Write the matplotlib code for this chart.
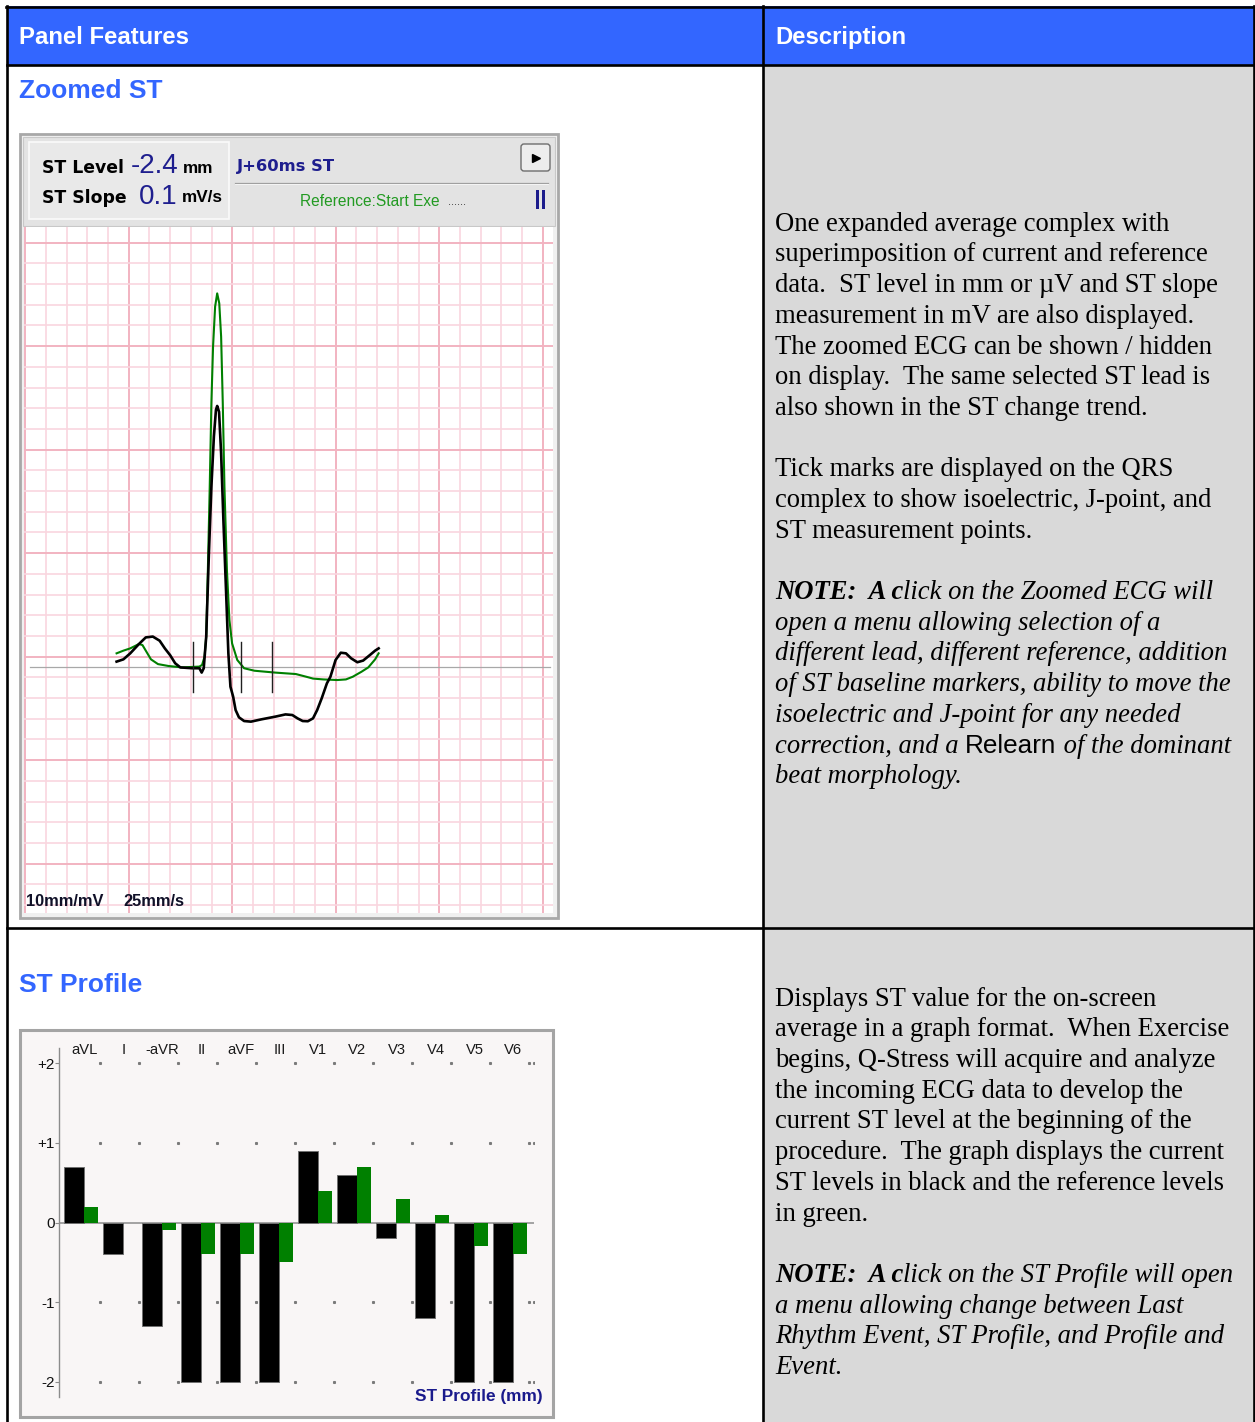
import matplotlib
matplotlib.use('Agg')
import matplotlib.pyplot as plt
from matplotlib.patches import Rectangle, FancyBboxPatch

W, H = 1255, 1422

# ---------------- data ----------------
# Zoomed ST: current (black) and reference (green) complexes, x in mm (25 mm/s), y in mm (10 mm/mV)
cur_x = [4.41, 4.74, 5.07, 5.49, 5.82, 6.16, 6.49, 6.74, 6.99, 7.24, 7.49, 8.07, 8.41, 8.52, 8.62,
         8.74, 8.87, 8.99, 9.11, 9.21, 9.27, 9.36, 9.46, 9.57, 9.69, 9.81, 9.91,
         10.04, 10.16, 10.32, 10.57, 10.90, 11.40, 12.07, 12.57, 12.90, 13.15, 13.40, 13.65, 13.90,
         14.10, 14.32, 14.57, 14.74, 14.99, 15.24, 15.49, 15.74, 16.04, 16.32, 16.65, 16.90, 17.07]
cur_y = [0.26, 0.37, 0.66, 1.11, 1.43, 1.47, 1.27, 0.90, 0.58, 0.18, -0.02, -0.06, -0.06, -0.27, -0.06,
         1.47, 5.49, 8.71, 11.13, 12.42, 12.61, 12.33, 10.32, 7.10, 3.88, 0.66, -0.95,
         -1.43, -2.08, -2.43, -2.61, -2.64, -2.53, -2.40, -2.29, -2.32, -2.48, -2.61, -2.62, -2.48,
         -2.08, -1.51, -0.79, -0.47, 0.34, 0.69, 0.66, 0.42, 0.23, 0.31, 0.58, 0.79, 0.90]
ref_x = [4.41, 4.74, 5.07, 5.49, 5.66, 5.82, 6.07, 6.41, 6.91, 7.57, 8.41, 8.54, 8.66, 8.74, 8.82,
         8.91, 8.99, 9.07, 9.17, 9.27, 9.37, 9.46, 9.54, 9.62, 9.74, 9.86, 9.99, 10.24, 10.57,
         11.07, 12.07, 13.07, 13.57, 13.90, 14.40, 15.07, 15.49, 15.82, 16.24, 16.57, 16.90, 17.07]
ref_y = [0.66, 0.79, 0.90, 1.11, 1.06, 0.79, 0.37, 0.14, 0.05, -0.02, 0.02, 0.10, 0.50, 1.47, 4.69,
         8.71, 12.74, 15.48, 17.41, 18.05, 17.57, 15.96, 12.74, 8.71, 4.69, 2.27, 1.14, 0.34, -0.06,
         -0.18, -0.27, -0.34, -0.47, -0.56, -0.60, -0.63, -0.60, -0.47, -0.23, -0.02, 0.37, 0.66]
marker_x = [8.11, 10.44, 11.94]          # isoelectric, J-point, ST measurement point
marker_half = 1.2

st_level = "-2.4"
st_slope = "0.1"

# ST Profile
leads = ['aVL', 'I', '-aVR', 'II', 'aVF', 'III', 'V1', 'V2', 'V3', 'V4', 'V5', 'V6']
st_current = [0.7, -0.4, -1.3, -2.0, -2.0, -2.0, 0.9, 0.6, -0.2, -1.2, -2.0, -2.0]
st_reference = [0.2, 0.0, -0.1, -0.4, -0.4, -0.5, 0.4, 0.7, 0.3, 0.1, -0.3, -0.4]
profile_ticks = [-2, -1, 0, 1, 2]
profile_tick_labels = ['-2', '-1', '0', '+1', '+2']

# ---------------- figure ----------------
fig = plt.figure(figsize=(W / 100, H / 100), dpi=100)
base = fig.add_axes([0, 0, 1, 1])
base.set_xlim(0, W)
base.set_ylim(H, 0)
base.axis('off')
R = fig.canvas.get_renderer()


def px_axes(x0, y0, x1, y1):
    return fig.add_axes([x0 / W, 1 - y1 / H, (x1 - x0) / W, (y1 - y0) / H])


def rect(x0, y0, x1, y1, **kw):
    p = Rectangle((x0, y0), x1 - x0, y1 - y0, **kw)
    base.add_patch(p)
    return p


def text_width(s, **kw):
    t = base.text(0, 0, s, **kw)
    w = t.get_window_extent(renderer=R).width
    t.remove()
    return w


def adv(s, **kw):
    return text_width('|' + s + '|', **kw) - text_width('||', **kw)


def draw_runs(x, y, parts):
    for s, kw in parts:
        base.text(x, y, s, va='baseline', ha='left', **kw)
        x += adv(s, **kw)


BLUE = '#3366FF'
SANS = 'Liberation Sans'
SERIF = 'Liberation Serif'

# ---------------- table ----------------
rect(7, 6, 1254, 65, facecolor=BLUE, edgecolor='none')
rect(763, 65, 1254, 1422, facecolor='#D9D9D9', edgecolor='none')
lw_t = 1.9
base.plot([6, 1255], [6.5, 6.5], color='black', lw=lw_t)
base.plot([7, 7], [6, 1422], color='black', lw=lw_t)
base.plot([1254, 1254], [6, 1422], color='black', lw=lw_t)
base.plot([7, 1254], [65, 65], color='black', lw=lw_t)
base.plot([7, 1254], [928, 928], color='black', lw=lw_t)
base.plot([763, 763], [6, 1422], color='black', lw=lw_t)

base.text(19, 37.5, 'Panel Features', color='white', fontsize=17.2, fontweight='bold',
          family=SANS, va='center', ha='left')
base.text(775, 37.5, 'Description', color='white', fontsize=17.2, fontweight='bold',
          family=SANS, va='center', ha='left')
base.text(19, 90.5, 'Zoomed ST', color=BLUE, fontsize=19, fontweight='bold',
          family=SANS, va='center', ha='left')
base.text(19, 984.5, 'ST Profile', color=BLUE, fontsize=19, fontweight='bold',
          family=SANS, va='center', ha='left')

# ---------------- description text ----------------
w10 = text_width('superimposition of current and reference', family=SERIF, fontsize=10)
bfs = 10 * 433 / w10
plain = dict(family=SERIF, fontsize=bfs, color='black')
ital = dict(family=SERIF, fontsize=bfs, style='italic', color='black')
bital = dict(family=SERIF, fontsize=bfs, style='italic', fontweight='bold', color='black')
sansr = dict(family=SANS, fontsize=bfs * 0.98, color='black')

LS = 30.7
X0 = 775
p1 = ['One expanded average complex with',
      'superimposition of current and reference',
      'data.  ST level in mm or \u00b5V and ST slope',
      'measurement in mV are also displayed.',
      'The zoomed ECG can be shown / hidden',
      'on display.  The same selected ST lead is',
      'also shown in the ST change trend.']
p2 = ['Tick marks are displayed on the QRS',
      'complex to show isoelectric, J-point, and',
      'ST measurement points.']
y0 = 230.7
for i, s in enumerate(p1):
    base.text(X0, y0 + LS * i, s, va='baseline', **plain)
for i, s in enumerate(p2):
    base.text(X0, y0 + LS * (8 + i), s, va='baseline', **plain)
n3 = [[('NOTE:  A c', bital), ('lick on the Zoomed ECG will', ital)],
      [('open a menu allowing selection of a', ital)],
      [('different lead, different reference, addition', ital)],
      [('of ST baseline markers, ability to move the', ital)],
      [('isoelectric and J-point for any needed', ital)],
      [('correction, and a ', ital), ('Relearn', sansr), (' of the dominant', ital)],
      [('beat morphology.', ital)]]
for i, parts in enumerate(n3):
    draw_runs(X0, y0 + LS * (12 + i), parts)

p4 = ['Displays ST value for the on-screen',
      'average in a graph format.  When Exercise',
      'begins, Q-Stress will acquire and analyze',
      'the incoming ECG data to develop the',
      'current ST level at the beginning of the',
      'procedure.  The graph displays the current',
      'ST levels in black and the reference levels',
      'in green.']
y1 = 1005.7
for i, s in enumerate(p4):
    base.text(X0, y1 + LS * i, s, va='baseline', **plain)
n4 = [[('NOTE:  A c', bital), ('lick on the ST Profile will open', ital)],
      [('a menu allowing change between Last', ital)],
      [('Rhythm Event, ST Profile, and Profile and', ital)],
      [('Event.', ital)]]
for i, parts in enumerate(n4):
    draw_runs(X0, y1 + LS * (9 + i), parts)

# ---------------- Zoomed ST panel frame ----------------
rect(20, 134, 558, 918, facecolor='#F0F0F0', edgecolor='#A8A8A8', lw=2.0)
rect(23, 137, 555, 226, facecolor='#E3E3E3', edgecolor='#C8C8C8', lw=0.8)
rect(29, 142, 229, 219, facecolor='#E9E9E9', edgecolor='#FAFAFA', lw=1.2)
base.plot([235, 548], [182.5, 182.5], color='#A0A0A0', lw=0.9)
base.plot([235, 548], [184, 184], color='#FAFAFA', lw=0.6)
btn = FancyBboxPatch((521, 144), 29, 27, boxstyle='round,pad=0,rounding_size=3',
                     facecolor='#EDEDED', edgecolor='#6E6E6E', lw=1.0)
base.add_patch(btn)
base.plot([536], [157.5], marker='>', color='black', markersize=6)
rect(535.5, 190, 538.5, 209, facecolor='#1C1C8C', edgecolor='none')
rect(541.5, 190, 544.5, 209, facecolor='#1C1C8C', edgecolor='none')

NAVY = '#1E1E8E'
lab = dict(family='DejaVu Sans', fontweight='bold', color='black', va='center', ha='left')
base.text(42, 168, 'ST Level', fontsize=12.4, **lab)
base.text(42, 198, 'ST Slope', fontsize=12.4, **lab)
base.text(131, 166, st_level, fontsize=20, family=SANS, color=NAVY, va='center', ha='left')
base.text(139, 197, st_slope, fontsize=20, family=SANS, color=NAVY, va='center', ha='left')
base.text(183, 168.5, 'mm', fontsize=12.3, family=SANS, fontweight='bold', color='black',
          va='center', ha='left')
base.text(182, 198, 'mV/s', fontsize=12.3, family=SANS, fontweight='bold', color='black',
          va='center', ha='left')
base.text(237, 167, 'J+60ms ST', fontsize=11.8, family='DejaVu Sans', fontweight='bold',
          color=NAVY, va='center', ha='left')
base.text(300, 202, 'Reference:Start Exe', fontsize=11.2, family=SANS, color='#229A22',
          va='center', ha='left')
base.text(448, 202, '......', fontsize=8, family=SANS, color='#303030', va='center', ha='left')

# ---------------- ECG axes ----------------
ax = px_axes(24, 227, 553, 913)
px_per_mm = 20.7
x_org, y_base = 25.3, 667
ax.set_xlim((24 - x_org) / px_per_mm, (553 - x_org) / px_per_mm)
ax.set_ylim((y_base - 913) / px_per_mm, (y_base - 227) / px_per_mm)
ax.set_facecolor('white')
for s in ax.spines.values():
    s.set_visible(False)
ax.set_xticks([])
ax.set_yticks([])
for k in range(0, 26):
    major = k % 5 == 0
    ax.axvline(k, color='#F2B3C1' if major else '#F9D6DF', lw=1.4 if major else 1.2, zorder=1)
for k in range(-12, 21):
    yv = 0.5 + k
    major = k % 5 == 0
    ax.axhline(yv, color='#F2B3C1' if major else '#F9D6DF', lw=1.4 if major else 1.2, zorder=1)
ax.plot([0.23, 25.35], [0, 0], color='#A8A8A8', lw=0.9, zorder=2)
ax.plot(ref_x, ref_y, color='#008000', lw=1.5, zorder=3, solid_joinstyle='round')
ax.plot(cur_x, cur_y, color='black', lw=1.9, zorder=4, solid_joinstyle='round')
for mx in marker_x:
    ax.plot([mx, mx], [-marker_half, marker_half], color='#202020', lw=1.0, zorder=5)
ax.text(26, 901, '10mm/mV', transform=base.transData, fontsize=11.8, family=SANS,
        fontweight='bold', color='#101028', va='center', ha='left', zorder=6)
ax.text(123, 901, '25mm/s', transform=base.transData, fontsize=11.8, family=SANS,
        fontweight='bold', color='#101028', va='center', ha='left', zorder=6)

# ---------------- ST Profile ----------------
rect(20, 1030, 553, 1417, facecolor='#F9F6F6', edgecolor='#A4A4A4', lw=2.2)
gx0, gw = 63.8, 39.0          # group origin / width in px
y0p, ypu = 1222.5, 79.6       # zero line / px per mm
axp = px_axes(59.3, 1047.7, 534.2, 1396.7)
axp.set_xlim(-(gx0 - 59.3) / gw, (534.2 - gx0) / gw)
axp.set_ylim((y0p - 1396.7) / ypu, (y0p - 1047.7) / ypu)
axp.set_facecolor('none')
for k in ['top', 'right', 'bottom']:
    axp.spines[k].set_visible(False)
axp.spines['left'].set_color('#8C8C8C')
axp.spines['left'].set_linewidth(1.0)
axp.set_xticks([])
axp.set_yticks(profile_ticks)
axp.set_yticklabels(profile_tick_labels)
axp.tick_params(axis='y', length=3, width=0.8, color='#8C8C8C', pad=0.5,
                labelsize=11, labelcolor='#111111')
for t in axp.get_yticklabels():
    t.set_family(SANS)
axp.axhline(0, color='#8C8C8C', lw=1.1, zorder=1)

bw_black, bw_green = 20.2 / gw, 14.3 / gw
xs = list(range(len(leads)))
axp.bar([i for i in xs], st_current, width=bw_black, align='edge', color='black',
        edgecolor='#707070', linewidth=0.7, zorder=3)
axp.bar([i + bw_black for i in xs], st_reference, width=bw_green, align='edge',
        color='#008000', edgecolor='none', zorder=3)
dot_x = [i + 0.92 for i in xs] + [12.05]
for yv in [2, 1, -1, -2]:
    axp.plot(dot_x, [yv] * len(dot_x), linestyle='none', marker='s', markersize=1.2,
             color='#7A7A7A', zorder=2)
for i, name in enumerate(leads):
    axp.text(i + 0.53, 2.17, name, ha='center', va='center', fontsize=10.6, family=SANS,
             color='#1A1A1A')
base.text(543, 1397, 'ST Profile (mm)', ha='right', va='center', fontsize=12.4,
          family=SANS, fontweight='bold', color='#1A1A8C')

fig.savefig('out.png', dpi=100)
